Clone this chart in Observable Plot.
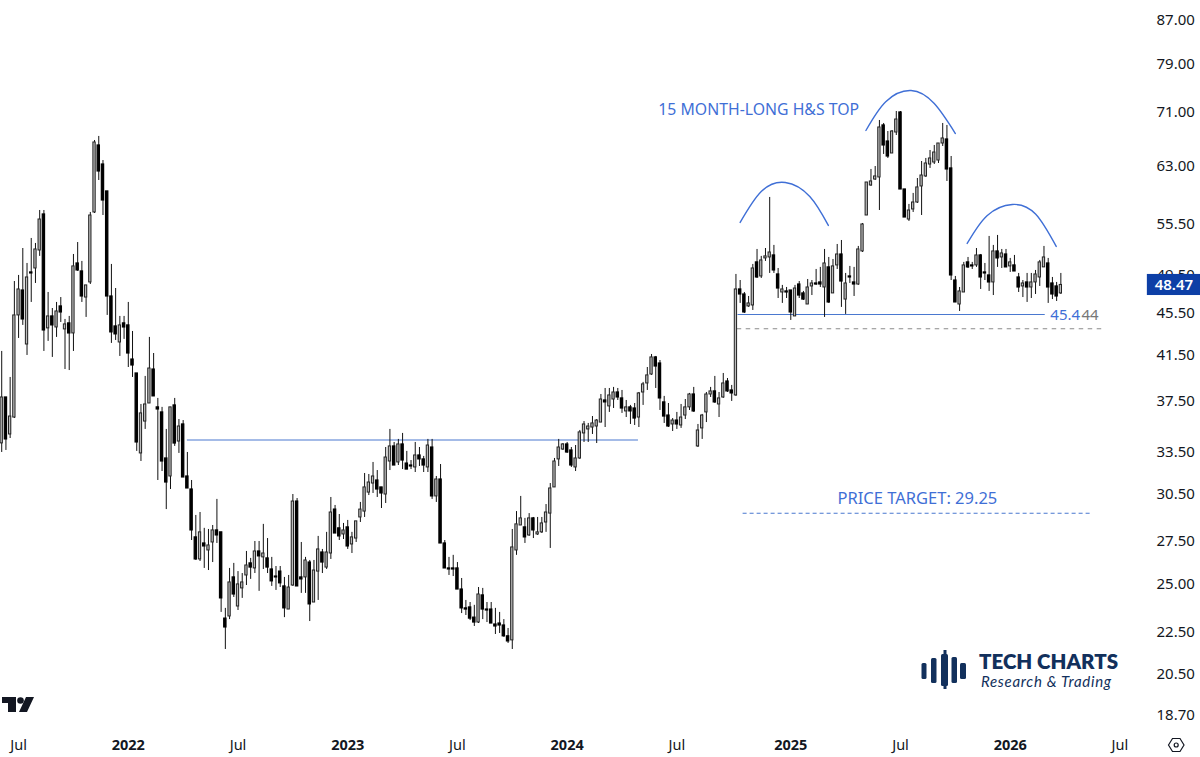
<!DOCTYPE html>
<html><head><meta charset="utf-8">
<script src="https://cdn.jsdelivr.net/npm/d3@7"></script>
<script src="https://cdn.jsdelivr.net/npm/@observablehq/plot@0.6"></script>
<style>
html,body{margin:0;padding:0;background:#fff;width:1200px;height:757px;overflow:hidden}
#wrap{position:relative;width:1200px;height:757px}
#wrap svg{display:block}
.ov{position:absolute;white-space:nowrap}
</style></head><body><div id="wrap"></div>
<script>
const opens=[34.14,37.79,34.82,36.15,45.31,47.88,42.49,49.83,50.27,52.31,
56.65,44.03,45.21,44.12,46.22,43.93,44.52,43.54,50.83,49.94,
47.14,48.74,56.90,65.99,63.27,59.61,47.25,44.22,42.68,44.52,
44.32,41.10,39.85,33.39,35.83,37.29,40.20,36.97,36.56,33.02,
31.73,37.13,34.28,35.60,31.73,30.83,27.73,26.41,27.36,26.94,
27.42,28.16,28.04,23.17,23.28,25.38,23.80,24.77,25.49,26.18,
25.89,26.88,26.53,26.47,25.83,25.43,25.71,24.88,23.64,24.93,
30.02,25.38,25.38,26.23,24.01,25.71,26.82,25.94,26.76,29.49,
28.29,27.91,28.35,27.30,27.66,28.98,29.36,30.62,31.24,31.45,
30.97,30.49,32.80,33.91,32.73,34.06,32.65,32.51,32.37,33.24,
32.95,32.37,33.83,30.36,31.52,27.36,25.89,25.89,25.89,24.71,
23.70,23.75,23.22,22.97,24.39,23.64,23.64,22.87,22.92,22.82,
22.28,22.08,26.94,28.47,28.35,27.85,28.92,27.91,28.04,28.66,
29.23,30.97,32.95,33.68,34.06,33.61,32.37,33.02,34.90,35.21,
35.36,35.44,35.75,37.54,37.05,37.62,38.21,37.71,36.64,36.97,
36.88,36.15,38.21,38.98,39.76,41.29,40.74,37.38,36.31,35.60,
35.91,35.52,36.31,36.97,38.04,33.91,35.29,36.56,38.04,38.30,
37.21,37.79,39.15,38.38,37.96,47.99,47.46,46.22,46.32,50.95,
49.39,51.40,51.51,51.74,49.61,47.67,47.78,47.88,45.21,48.52,
47.57,46.42,48.31,48.63,48.74,48.20,50.39,47.57,50.61,51.85,
46.93,49.39,48.74,48.52,52.20,56.52,60.40,61.20,61.48,68.98,
66.57,64.83,67.91,70.99,59.87,56.02,57.28,58.17,60.27,61.62,
63.27,63.55,63.83,66.28,66.87,62.72,48.95,46.42,47.67,50.95,
50.61,50.61,51.74,49.83,49.50,48.74,52.20,51.51,51.85,50.50,
50.61,49.28,48.31,48.74,48.20,48.74,49.28,50.39,50.83,48.63,48.31,47.57];
const closes=[37.79,34.44,36.23,45.31,47.99,44.91,49.28,49.72,52.43,56.02,
43.83,45.21,44.32,45.71,45.61,44.42,43.54,50.50,50.05,47.25,
48.42,56.52,66.43,62.30,58.43,47.25,43.64,43.45,44.32,44.12,
41.65,40.56,34.21,36.48,37.21,40.29,37.88,36.80,32.80,31.31,
36.97,34.13,35.44,31.66,30.90,28.16,26.41,28.04,27.18,27.24,
28.16,27.85,24.23,22.72,25.10,24.44,24.99,25.10,26.06,25.94,
26.88,26.59,26.76,25.94,25.16,25.38,25.05,23.70,24.82,30.02,
24.88,25.27,26.35,23.91,25.77,27.00,26.23,26.82,29.30,27.97,
27.79,28.16,27.18,27.73,28.73,29.49,30.97,31.31,31.73,30.83,
30.56,33.09,33.91,32.51,34.06,32.87,32.22,32.44,33.24,32.95,
32.51,33.98,30.36,31.52,27.36,25.89,25.83,25.83,24.71,23.70,
23.64,23.17,22.97,24.44,23.64,23.59,22.92,22.77,22.82,22.28,
22.03,27.12,28.54,28.92,27.73,28.92,28.16,28.04,28.60,29.30,
30.90,32.80,33.83,34.06,33.46,32.51,33.02,34.98,35.60,35.44,
35.68,35.91,37.62,37.38,37.96,38.21,37.79,36.88,36.97,36.64,
36.07,38.13,38.90,39.68,41.29,40.47,37.71,36.23,35.44,35.91,
35.60,36.15,36.97,38.04,36.64,35.13,36.31,38.04,38.30,37.38,
37.71,38.98,38.30,38.13,47.99,47.46,45.61,46.53,50.27,49.28,
51.17,51.63,52.08,50.05,48.09,47.99,47.67,45.61,48.09,47.35,
46.93,48.20,48.63,48.52,48.52,50.83,46.63,50.50,51.85,48.84,
48.63,49.28,48.52,52.43,55.41,60.80,60.94,61.62,68.67,65.99,
64.40,68.06,69.89,59.87,56.27,57.15,58.17,60.14,61.75,63.41,
64.12,64.97,66.28,67.02,62.58,49.50,46.63,47.78,50.61,50.39,
50.50,51.74,49.28,49.72,48.74,52.20,51.40,51.97,50.39,50.95,
49.94,48.20,48.63,48.20,48.74,49.61,50.95,51.51,48.20,47.46,47.25,48.47];
const highs=[41.84,37.79,39.50,48.84,49.50,52.54,50.83,53.72,53.13,57.15,
57.15,47.67,46.01,46.63,47.14,44.91,45.21,51.85,53.24,51.06,
48.42,56.90,66.72,67.32,63.83,59.61,50.72,48.09,45.21,45.21,
46.63,43.73,39.85,37.21,39.59,43.16,41.65,37.71,36.97,35.21,
36.97,37.71,35.99,35.91,33.46,31.45,29.11,29.30,28.29,28.22,
28.47,30.16,28.04,23.70,25.89,26.18,25.71,25.60,26.88,26.47,
27.48,27.48,28.54,27.66,26.53,26.00,26.00,25.38,25.49,30.49,
30.22,27.42,26.53,26.35,26.35,27.79,27.00,28.04,30.29,29.76,
29.17,28.60,28.79,28.04,28.73,29.96,31.94,31.87,32.73,32.15,
30.97,33.83,35.21,34.21,34.44,34.90,33.54,32.87,34.21,33.83,
33.17,34.44,34.44,31.73,32.58,27.54,26.53,26.65,26.23,25.32,
24.12,24.01,23.86,24.82,24.77,24.01,24.01,23.70,23.49,23.12,
22.67,28.22,29.36,30.36,28.92,29.23,28.98,28.98,28.98,29.82,
31.24,33.02,34.44,34.13,34.21,33.83,33.98,35.13,35.83,35.68,
36.23,35.99,38.04,38.55,38.55,38.64,38.55,38.38,37.54,37.13,
37.29,38.21,39.07,40.38,41.56,41.38,41.01,37.88,37.29,36.07,
36.56,37.21,37.62,38.13,38.64,35.60,36.40,38.21,38.64,39.59,
38.21,39.85,39.41,38.81,49.61,48.95,47.67,47.25,50.72,52.43,
51.63,52.54,58.82,52.90,50.27,48.42,48.20,47.88,48.42,48.84,
47.78,49.06,48.95,50.16,50.39,52.43,51.51,51.28,53.01,53.48,
49.72,50.50,50.39,52.78,55.53,60.80,62.58,62.99,69.74,69.28,
68.06,68.21,71.14,71.14,59.87,57.92,59.35,61.34,63.69,64.12,
65.26,65.99,66.28,69.28,68.98,64.40,49.39,48.20,50.95,51.51,
50.95,52.54,51.85,50.83,53.96,52.90,54.08,52.43,52.43,51.40,
51.74,49.72,48.95,49.72,49.72,50.05,51.17,52.78,51.40,49.28,48.74,49.72];
const lows=[33.46,33.61,34.51,36.07,43.06,44.32,41.47,46.63,48.63,51.63,
41.84,42.78,41.29,43.16,44.61,40.20,40.11,41.84,49.94,46.63,
45.11,48.52,56.77,61.07,56.52,45.31,42.59,42.87,41.38,42.97,
40.38,39.50,33.54,32.80,35.21,37.29,37.88,31.45,32.08,29.49,
30.83,33.91,33.39,31.66,30.90,27.54,26.35,26.29,25.89,25.77,
26.23,27.36,23.49,21.64,23.12,24.28,23.59,24.23,24.93,25.27,
25.60,24.61,25.83,25.60,24.88,24.66,24.82,23.22,23.64,24.88,
24.88,24.50,24.50,23.02,24.01,24.12,25.60,25.83,26.41,27.97,
27.54,27.60,27.00,26.76,27.42,28.66,28.98,30.42,30.56,30.29,
29.56,29.89,32.15,32.51,32.51,32.22,32.22,32.22,32.01,32.44,
32.01,32.01,30.16,29.96,27.36,25.89,25.49,25.43,24.71,23.43,
23.33,23.07,22.77,22.92,23.12,22.97,22.92,22.37,22.42,22.23,
21.93,21.64,26.65,28.47,27.36,27.79,27.66,27.85,27.97,28.04,
27.06,30.97,32.44,33.61,33.39,32.37,32.08,32.95,34.21,34.21,
34.82,34.13,35.75,35.36,36.56,36.88,37.54,36.48,36.15,35.60,
35.52,35.36,37.13,38.38,39.68,38.55,36.72,35.68,35.36,35.05,
35.21,35.29,35.99,36.72,36.56,33.83,34.44,35.75,37.79,37.29,
36.15,37.71,38.21,37.46,37.88,46.53,45.51,46.12,45.81,49.17,
49.17,51.06,49.72,49.72,47.04,46.53,47.04,44.81,45.21,47.04,
46.83,46.42,47.35,48.42,48.20,45.11,46.53,47.57,50.16,46.12,
45.41,48.63,47.25,48.42,52.08,56.52,60.27,61.07,57.15,64.69,
64.12,64.83,67.46,59.87,56.27,55.78,56.90,58.04,56.52,61.48,
62.72,63.27,63.41,65.84,60.94,48.95,46.63,45.71,47.67,50.27,
50.16,50.39,47.99,48.95,47.78,47.35,50.39,50.27,50.39,49.83,
49.94,47.67,47.14,46.63,47.04,47.46,48.31,50.39,46.53,46.93,46.73,47.46];

const priceTicks=[87,79,71,63,55.5,49.5,45.5,41.5,37.5,33.5,30.5,27.5,25,22.5,20.5,18.7];
const monthTicks=["2021-07-05","2022-07-04","2023-07-03","2024-07-01","2025-07-07","2026-07-06"];
const yearTicks=["2022-01-03","2023-01-02","2024-01-01","2025-01-06","2026-01-05"];

// Shoulder and head arcs: candle position, price
const arcLeft=[[175,55.66],[180,59.6],[185.7,60.80],[191.5,58.95],[195.9,55.29]];
const arcHead=[[204.8,68.21],[209.5,72.7],[215.5,74.52],[221,72.4],[226,67.76]];
const arcRight=[[228.8,53.13],[233.5,56.5],[239.5,57.92],[245,56.7],[249.9,52.78]];

const DAY=864e5, t0=Date.UTC(2021,5,7);
const when=i=>new Date(t0+i*7*DAY);
const candles=opens.map((o,i)=>({date:when(i),o,c:closes[i],h:highs[i],l:lows[i],
  a:new Date(t0+i*7*DAY-1.9*DAY),b:new Date(t0+i*7*DAY+1.9*DAY)}));
const ups=candles.filter(d=>d.c>=d.o), downs=candles.filter(d=>d.c<d.o);
const arcs=[arcLeft,arcHead,arcRight].flatMap((a,k)=>a.map(([i,p])=>({date:when(i),p,k})));
const BLUE="#3f6fd6", LINE="#4a78cf", FONT="'Noto Sans',sans-serif";
const solidLevels=[{p:34.4,a:when(44),b:when(150.9)},{p:45.4,a:when(174.5),b:when(247.3)}];
const stopLevel=[{p:44,a:when(174.3),b:when(260.8)}];
const targetLevel=[{p:29.25,a:when(175.7),b:when(258)}];
const D=s=>new Date(s+"T00:00:00Z");

const chart=Plot.plot({
  width:1200,height:757,marginTop:0,marginLeft:0,marginRight:45,marginBottom:30,
  style:{background:"#fff",fontFamily:FONT,fontSize:"14.5px",color:"#131722",overflow:"visible"},
  x:{type:"utc",domain:[D("2021-06-05"),D("2026-09-03")],label:null},
  y:{type:"log",domain:[18.21,90.94],label:null},
  marks:[
    Plot.axisX(monthTicks.map(D),{anchor:"bottom",tickSize:0,tickPadding:12,label:null,tickFormat:()=>"Jul",fill:"#131722",fontSize:14.5}),
    Plot.axisX(yearTicks.map(D),{anchor:"bottom",tickSize:0,tickPadding:12,label:null,tickFormat:d=>d3.utcFormat("%Y")(d),fill:"#131722",fontWeight:"bold",fontSize:14.5}),
    Plot.axisY(priceTicks,{anchor:"right",tickSize:0,tickPadding:1,label:null,tickFormat:d=>d.toFixed(2),fill:"#131722",fontSize:15}),
    Plot.ruleY(solidLevels,{y:"p",x1:"a",x2:"b",stroke:LINE,strokeWidth:1.1}),
    Plot.ruleY(stopLevel,{y:"p",x1:"a",x2:"b",stroke:"#8a8a8a",strokeWidth:1.1,strokeDasharray:"4.5,4.5"}),
    Plot.ruleY(targetLevel,{y:"p",x1:"a",x2:"b",stroke:LINE,strokeWidth:1.1,strokeDasharray:"4,3"}),
    Plot.ruleX(candles,{x:"date",y1:"l",y2:"h",stroke:"#111",strokeWidth:1}),
    Plot.rect(ups,{x1:"a",x2:"b",y1:"o",y2:"c",fill:"#bbb",stroke:"#222",strokeWidth:1}),
    Plot.rect(downs,{x1:"a",x2:"b",y1:"o",y2:"c",fill:"#000",stroke:"#000",strokeWidth:1.2}),
    Plot.line(arcs,{x:"date",y:"p",z:"k",curve:"natural",stroke:BLUE,strokeWidth:1.4}),
    Plot.text(["15 MONTH-LONG H&S TOP"],{x:when(155.6),y:71.46,text:d=>d,textAnchor:"start",fill:BLUE,fontSize:15.8}),
    Plot.text(["PRICE TARGET: 29.25"],{x:when(217),y:30.22,text:d=>d,fill:BLUE,fontSize:16.5}),
    Plot.text(["45.4"],{x:when(248.5),y:45.3,text:d=>d,textAnchor:"start",fill:BLUE,fontSize:15}),
    Plot.text(["44"],{x:when(255.9),y:45.3,text:d=>d,textAnchor:"start",fill:"#777",fontSize:15}),
    Plot.rect([{}],{x1:when(271.5),x2:when(284.2),y1:47.35,y2:49.61,fill:"#0d3fa6"}),
    Plot.text(["48.47"],{x:when(277.8),y:48.47,text:d=>d,fill:"#fff",fontWeight:600,fontSize:15})
  ]
});
const wrap=document.getElementById("wrap");
wrap.appendChild(chart);
wrap.insertAdjacentHTML("beforeend",`
<svg class="ov" style="left:0;top:0;pointer-events:none" width="1200" height="757">
  <g fill="#131722">
    <path d="M2 697H16V712H8V703H2Z"/><circle cx="20.5" cy="700.5" r="3.3"/><path d="M26 697H34L27 712H19Z"/>
  </g>
  <g fill="#12305c">
    <rect x="921.5" y="663" width="5" height="16" rx="1.5"/>
    <rect x="931" y="658" width="5.5" height="25" rx="1.5"/>
    <rect x="941" y="654" width="7" height="32" rx="1.5"/><rect x="943.5" y="650" width="3" height="39"/>
    <rect x="951.5" y="657" width="5.5" height="26" rx="1.5"/>
    <rect x="960" y="663" width="6" height="16" rx="1.5"/>
  </g>
  <g fill="none" stroke="#131722" stroke-width="1.2">
    <path d="M1168.5 745 L1172.5 738.5 L1180 738.5 L1184 745 L1180 751.5 L1172.5 751.5 Z"/><circle cx="1176.2" cy="745" r="2"/>
  </g>
</svg>
<div class="ov" style="left:979px;top:649px;font:800 20.5px Lato,sans-serif;color:#12305c">TECH CHARTS</div>
<div class="ov" style="left:981px;top:672px;font:italic 400 15px Lato,sans-serif;color:#12305c;letter-spacing:.7px">Research &amp; Trading</div>
`);
</script></body></html>
